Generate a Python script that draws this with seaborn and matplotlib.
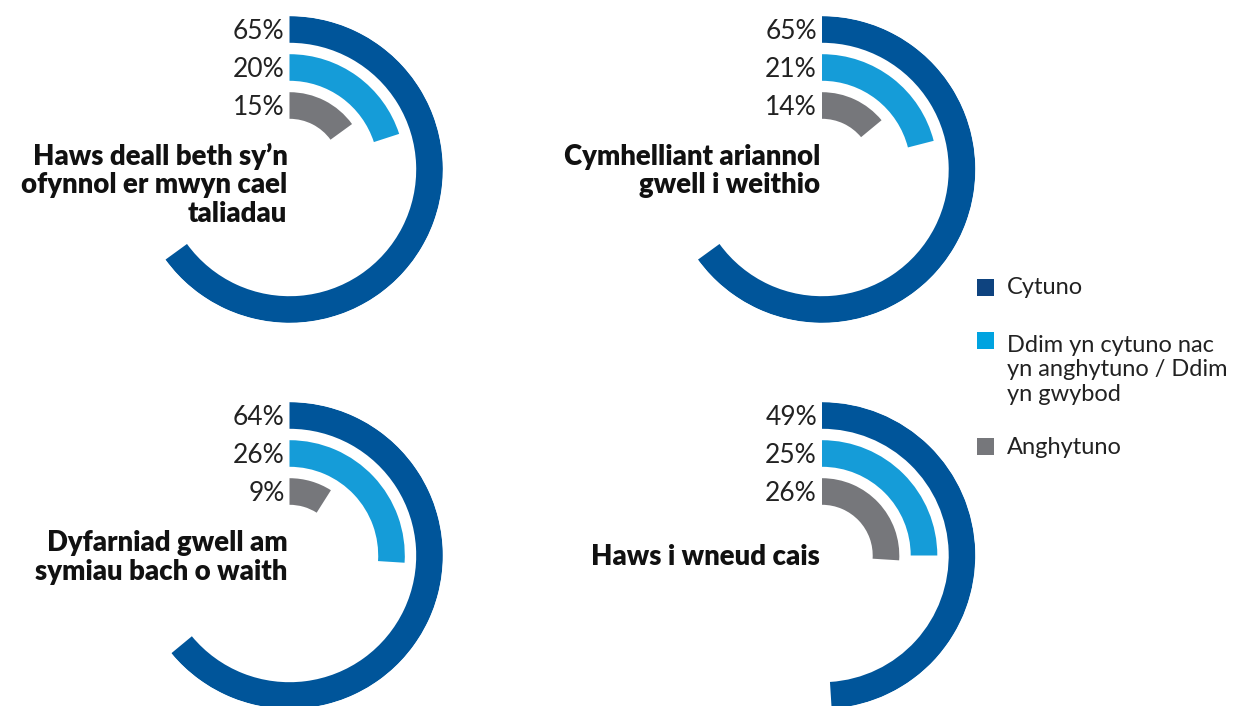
import numpy as np
import pandas as pd
import matplotlib
matplotlib.use("Agg")
import matplotlib.pyplot as plt
import seaborn as sns
from matplotlib.patches import Rectangle

# ---------------- data ----------------
titles = [
    "Haws deall beth sy’n\nofynnol er mwyn cael\ntaliadau",
    "Cymhelliant ariannol\ngwell i weithio",
    "Dyfarniad gwell am\nsymiau bach o waith",
    "Haws i wneud cais",
]
responses = [
    "Cytuno",
    "Ddim yn cytuno nac\nyn anghytuno / Ddim\nyn gwybod",
    "Anghytuno",
]
agree = [65, 65, 64, 49]
neutral = [20, 21, 26, 25]
disagree = [15, 14, 9, 26]

colors = ["#00559A", "#159CD8", "#76777B"]
legend_colors = ["#0E437F", "#00A3E0", "#76777B"]

# ---------------- style ----------------
sns.set_theme(style="white")
plt.rcParams["font.family"] = ["Lato", "DejaVu Sans"]

W, H = 1239, 706
fig = plt.figure(figsize=(W / 100, H / 100), dpi=100)

centers = [(289.5, 169.5), (822, 169.5), (289.5, 555.5), (822, 555.5)]
R = 153.5           # outer radius in px
pitch = 38.0        # px per ring
rmin = -64.0 / pitch
rmax = R / pitch + rmin
# baseline of the LAST title line, relative to centre (upwards positive)
title_dy = [-52.5, -24.0, -24.5, -9.5]

order = responses[::-1]  # innermost first -> Cytuno outermost
palette = dict(zip(responses, colors))

for i, (cx, cy) in enumerate(centers):
    ax = fig.add_axes([(cx - R) / W, 1 - (cy + R) / H, 2 * R / W, 2 * R / H],
                      projection="polar")
    df = pd.DataFrame({
        "response": responses,
        "pct": [agree[i], neutral[i], disagree[i]],
    })
    df["theta"] = df["pct"] / 100 * 2 * np.pi
    sns.barplot(data=df, x="theta", y="response", hue="response", order=order,
                palette=palette, orient="y", width=0.70, errorbar=None,
                saturation=1, legend=False, ax=ax, linewidth=0)
    ax.set_theta_zero_location("N")
    ax.set_theta_direction(-1)
    ax.set_xlim(0, 2 * np.pi)
    ax.set_ylim(rmin, rmax)
    ax.set_axis_off()

    for pos, resp in enumerate(order):
        v = df.loc[df["response"] == resp, "pct"].iloc[0]
        ax.annotate(f"{v}%", xy=(0, pos), xytext=(-5, -9.5),
                    textcoords="offset pixels", ha="right", va="baseline",
                    fontsize=19, color="#222222", annotation_clip=False)

    ax.annotate(titles[i], xy=(0, rmin), xytext=(-2, title_dy[i]),
                textcoords="offset pixels", ha="right", va="baseline",
                multialignment="right", fontsize=19.8, fontweight="heavy",
                color="#111111", linespacing=1.13, annotation_clip=False)

# ---------------- legend ----------------
leg_y = [287, 341, 446]      # centre of first text line (px from top)
leg_last = [287, 393, 446]   # centre of last text line
for col, lab, y, yl in zip(legend_colors, responses, leg_y, leg_last):
    fig.add_artist(Rectangle(((985 - 8.5) / W, 1 - (y + 8.5) / H), 17 / W, 17 / H,
                             transform=fig.transFigure, color=col, lw=0))
    fig.text(1007 / W, 1 - (yl + 7.5) / H, lab, ha="left", va="baseline",
             fontsize=17, color="#222222", linespacing=1.2)

fig.savefig("out.png", dpi=100)
